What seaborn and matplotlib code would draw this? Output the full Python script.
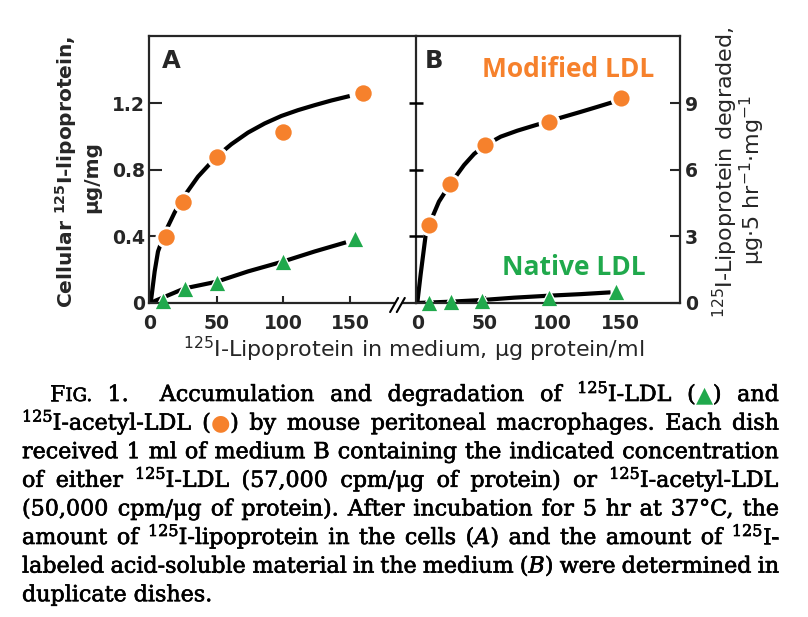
import re
import numpy as np
import pandas as pd
import matplotlib
matplotlib.use("Agg")
import matplotlib.pyplot as plt
import matplotlib.patheffects as pe
from matplotlib.transforms import IdentityTransform
import seaborn as sns

# ---------------- data ----------------
tick_x = [0, 50, 100, 150]
tick_x_labels = ["0", "50", "100", "150"]
tick_a_y = [0, 0.4, 0.8, 1.2]
tick_a_labels = ["0", "0.4", "0.8", "1.2"]
tick_b_y = [0, 3, 6, 9]
tick_b_labels = ["0", "3", "6", "9"]
tick_border_y = [3, 6, 9]

# measured points
a_mod_x = [12, 25, 50, 100, 160]
a_mod_y = [0.395, 0.606, 0.88, 1.027, 1.261]
a_nat_x = [9.5, 26, 50.5, 100, 154]
a_nat_y = [0.01, 0.082, 0.122, 0.245, 0.383]
b_mod_x = [8.7, 24.2, 49.9, 97.5, 151]
b_mod_y = [3.52, 5.35, 7.13, 8.15, 9.26]
b_nat_x = [8.7, 25, 48, 97.5, 146.8]
b_nat_y = [0.02, 0.06, 0.09, 0.21, 0.48]

# hand-drawn fitted curves
a_mod_curve_x = [0, 1, 3.5, 6, 11, 18.5, 24.5, 36, 49.8, 61, 73.5, 86, 98.5, 111, 123.5, 136, 149.8]
a_mod_curve_y = [0, 0.03, 0.19, 0.31, 0.42, 0.545, 0.63, 0.76, 0.88, 0.955, 1.025, 1.08, 1.125, 1.16, 1.19, 1.218, 1.245]
a_nat_curve_x = [0, 26, 50, 73.5, 100, 123.5, 147]
a_nat_curve_y = [0.0, 0.088, 0.128, 0.19, 0.25, 0.31, 0.365]
b_mod_curve_x = [0, 2.5, 6.2, 8.7, 16, 24.2, 34.6, 42, 49.9, 61.7, 74, 86.4, 97.5, 108.6, 121, 133, 144.3]
b_mod_curve_y = [0, 1.3, 3.07, 3.52, 4.57, 5.35, 6.22, 6.72, 7.1, 7.5, 7.77, 8.0, 8.2, 8.4, 8.62, 8.84, 9.05]
b_nat_curve_x = [0, 24.7, 48, 71.6, 97.5, 121, 143]
b_nat_curve_y = [0.0, 0.06, 0.135, 0.24, 0.33, 0.40, 0.48]

series_labels = ["Modified LDL", "Native LDL"]
panel_labels = ["A", "B"]
ylabel_a = ["Cellular $^{\\mathbf{125}}$I-lipoprotein,", "μg/mg"]
ylabel_b = ["$^{125}$I-Lipoprotein degraded,", "μg·5 hr$^{-1}$·mg$^{-1}$"]
xlabel = "$^{125}$I-Lipoprotein in medium, μg protein/ml"

caption_lines = [
    "F{c:IG.} 1.  Accumulation and degradation of {s:125}I-LDL ({g:▲}) and",
    "{s:125}I-acetyl-LDL ({o:●}) by mouse peritoneal macrophages. Each dish",
    "received 1 ml of medium B containing the indicated concentration",
    "of either {s:125}I-LDL (57,000 cpm/μg of protein) or {s:125}I-acetyl-LDL",
    "(50,000 cpm/μg of protein). After incubation for 5 hr at 37°C, the",
    "amount of {s:125}I-lipoprotein in the cells ({i:A}) and the amount of {s:125}I-",
    "labeled acid-soluble material in the medium ({i:B}) were determined in",
    "duplicate dishes.",
]

ORANGE = "#F6812C"
GREEN = "#20A94C"

# ---------------- style ----------------
sns.set_style("ticks")
plt.rcParams["font.family"] = ["DejaVu Sans"]
plt.rcParams["mathtext.fontset"] = "dejavusans"

W, H = 808, 617
fig = plt.figure(figsize=(W / 100, H / 100), dpi=100)
axA = fig.add_axes([149 / W, 1 - 303 / H, 267 / W, 267 / H])
axB = fig.add_axes([416 / W, 1 - 303 / H, 264 / W, 267 / H])
axB.patch.set_visible(False)

def draw_series(ax, cx, cy, px, py, color, marker, size, halo):
    cdf = pd.DataFrame({"x": cx, "y": cy})
    pdf = pd.DataFrame({"x": px, "y": py})
    sns.lineplot(data=cdf, x="x", y="y", sort=False, estimator=None, color="black",
                 lw=3.0, solid_capstyle="butt", solid_joinstyle="round", ax=ax, zorder=2)
    sns.scatterplot(data=pdf, x="x", y="y", color="white", marker=marker, s=halo,
                    linewidth=0, ax=ax, zorder=2.2, clip_on=False)
    sns.scatterplot(data=pdf, x="x", y="y", color=color, marker=marker, s=size,
                    linewidth=0, ax=ax, zorder=3, clip_on=False)

draw_series(axA, a_mod_curve_x, a_mod_curve_y, a_mod_x, a_mod_y, ORANGE, "o", 140, 250)
draw_series(axA, a_nat_curve_x, a_nat_curve_y, a_nat_x, a_nat_y, GREEN, "^", 120, 230)
draw_series(axB, b_mod_curve_x, b_mod_curve_y, b_mod_x, b_mod_y, ORANGE, "o", 135, 245)
draw_series(axB, b_nat_curve_x, b_nat_curve_y, b_nat_x, b_nat_y, GREEN, "^", 120, 230)

for ax in (axA, axB):
    ax.set_xlabel("")
    ax.set_ylabel("")
    for sp in ax.spines.values():
        sp.set_linewidth(1.6)
        sp.set_visible(True)
    ax.set_xticks(tick_x)
    ax.set_xticklabels(tick_x_labels, fontsize=13.5, fontweight="bold")
    ax.tick_params(axis="x", which="major", direction="in", length=5, width=1.5, pad=8)

axA.set_xlim(-0.75, 199.5)
axA.set_ylim(0, 1.606)
axB.set_xlim(-0.96, 194.4)
axB.set_ylim(0, 12.04)
axA.spines["right"].set_visible(False)

axA.set_yticks(tick_a_y)
axA.set_yticklabels(tick_a_labels, fontsize=13.5, fontweight="bold")
axA.tick_params(axis="y", direction="in", length=9.5, width=1.5, pad=3,
                left=True, right=False)

axB.set_yticks(tick_b_y)
axB.set_yticklabels(tick_b_labels, fontsize=13.5, fontweight="bold")
axB.tick_params(axis="y", which="major", direction="in", length=7, width=1.5, pad=3.5,
                left=False, right=True, labelleft=False, labelright=True)

# tick marks crossing the shared border between the panels
axB.hlines(tick_border_y, -0.028, 0.028, transform=axB.get_yaxis_transform(),
           colors="black", linewidth=1.8, clip_on=False, zorder=6)

# axis break mark on panel A's x axis
axA.fill([0.903, 0.933, 0.958, 0.928], [-0.034, 0.019, 0.019, -0.034],
         color="white", transform=axA.transAxes, clip_on=False, zorder=4, lw=0)
axA.plot([0.903, 0.933], [-0.034, 0.019], color="black", lw=1.5,
         transform=axA.transAxes, clip_on=False, zorder=5)
axA.plot([0.928, 0.958], [-0.034, 0.019], color="black", lw=1.5,
         transform=axA.transAxes, clip_on=False, zorder=5)

# panel letters
fig.text(162 / W, 1 - 68 / H, panel_labels[0], fontsize=17.5, fontweight="bold",
         ha="left", va="baseline")
fig.text(425 / W, 1 - 68 / H, panel_labels[1], fontsize=17.5, fontweight="bold",
         ha="left", va="baseline")

# series labels
fig.text(568 / W, 1 - 77 / H, series_labels[0], family="Open Sans", fontweight="bold",
         fontsize=19, color=ORANGE, ha="center", va="baseline")
fig.text(574 / W, 1 - 275 / H, series_labels[1], family="Open Sans", fontweight="bold",
         fontsize=19, color=GREEN, ha="center", va="baseline")

# axis labels
fig.text(66 / W, 1 - 172 / H, ylabel_a[0], rotation=90, ha="center", va="center",
         fontsize=14.5, fontweight="bold")
fig.text(92 / W, 1 - 177 / H, ylabel_a[1], rotation=90, ha="center", va="center",
         fontsize=14.5, fontweight="bold")
fig.text(725 / W, 1 - 172 / H, ylabel_b[0], rotation=90, ha="center", va="center",
         fontsize=16)
fig.text(752 / W, 1 - 180 / H, ylabel_b[1], rotation=90, ha="center", va="center",
         fontsize=16)
fig.text(414 / W, 1 - 357 / H, xlabel, ha="center", va="baseline", fontsize=16)

# ---------------- caption (justified) ----------------
SERIF = "DejaVu Serif"
SYM = "DejaVu Sans"
renderer = fig.canvas.get_renderer()
PX = fig.dpi / 72.0
cap_left = [50, 22, 22, 22, 22, 22, 22, 22]
cap_right = 779
cap_base = [401 + 28.6 * i for i in range(len(caption_lines))]
INK = [pe.withStroke(linewidth=0.45, foreground="black")]

def seg_style(kind, size):
    st = dict(family=SERIF, fontsize=size, color="black", fontstyle="normal")
    rise = 0.0
    if kind == "s":
        st["fontsize"] = size * 0.72
        rise = size * 0.36
    elif kind == "c":
        st["fontsize"] = size * 0.82
    elif kind == "i":
        st["fontstyle"] = "italic"
    elif kind == "g":
        st.update(family=SYM, color=GREEN, fontsize=size * 1.0)
    elif kind == "o":
        st.update(family=SYM, color=ORANGE, fontsize=size * 1.0)
    return st, rise * PX

def parse_word(word):
    parts = [p for p in re.split(r"(\{[a-z]:[^}]*\})", word) if p]
    segs = []
    for p in parts:
        m = re.fullmatch(r"\{([a-z]):([^}]*)\}", p)
        segs.append((m.group(1), m.group(2)) if m else ("n", p))
    return segs

def parse_line(line):
    words, weights, pending = [], [], 0
    for tok in line.split(" "):
        if tok == "":
            pending += 1
            continue
        if words:
            weights.append(1 + pending)
        pending = 0
        words.append(parse_word(tok))
    return words, weights

def seg_width(kind, txt, size):
    st, _ = seg_style(kind, size)
    t = fig.text(0, 0, txt, transform=IdentityTransform(), **st)
    w = t.get_window_extent(renderer).width
    t.remove()
    return w

def word_width(segs, size):
    return sum(seg_width(k, s, size) for k, s in segs)

parsed = [parse_line(l) for l in caption_lines]
s0 = 15.0
ratios = []
for i, (words, weights) in enumerate(parsed[:-1]):
    nat = sum(word_width(w, s0) for w in words) + sum(weights) * 0.26 * s0 * PX
    ratios.append((cap_right - cap_left[i]) / nat)
size = float(np.clip(s0 * min(ratios) * 0.998, 12, 18))

for i, (words, weights) in enumerate(parsed):
    widths = [word_width(w, size) for w in words]
    if i < len(parsed) - 1:
        unit = (cap_right - cap_left[i] - sum(widths)) / sum(weights)
    else:
        unit = 0.3 * size * PX
    x = cap_left[i]
    yb = H - cap_base[i]
    for j, segs in enumerate(words):
        for kind, txt in segs:
            st, rise = seg_style(kind, size)
            t = fig.text(x, yb + rise, txt, transform=IdentityTransform(),
                         ha="left", va="baseline", **st)
            if kind not in ("g", "o"):
                t.set_path_effects(INK)
            x += t.get_window_extent(renderer).width
        if j < len(weights):
            x += unit * weights[j]

fig.savefig("out.png", dpi=100)
